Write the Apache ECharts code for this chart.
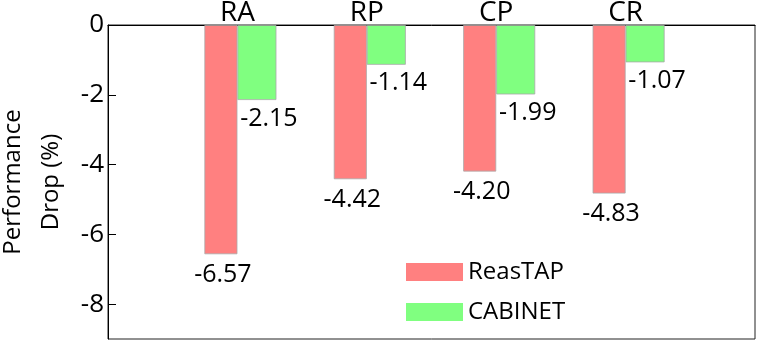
<!DOCTYPE html>
<html>
<head>
<meta charset="utf-8">
<script src="https://cdn.jsdelivr.net/npm/echarts@6/dist/echarts.min.js"></script>
<style>
  html, body { margin: 0; padding: 0; background: #fff; }
  #chart { width: 761px; height: 345px; }
</style>
</head>
<body>
<div id="chart"></div>
<script>
const categories = ['RA', 'RP', 'CP', 'CR']
const categoryPos = [1, 2, 3, 4]
const reastap = [-6.57, -4.42, -4.20, -4.83]
const cabinet = [-2.15, -1.14, -1.99, -1.07]
const yTicks = [0, -2, -4, -6, -8]

const RED = '#ff8080'
const GREEN = '#80ff80'
const FONT = 'Open Sans'

const chart = echarts.init(document.getElementById('chart'), null, { renderer: 'canvas' })

const toPoints = (vals) => vals.map((v, i) => [categoryPos[i], v])

chart.setOption({
  animation: false,
  textStyle: { fontFamily: FONT, color: '#000' },
  grid: {
    left: 108,
    right: 6,
    top: 25,
    bottom: 6,
    outerBoundsMode: 'none',
    containLabel: false,
    show: true,
    borderColor: '#222',
    borderWidth: 1,
  },
  legend: {
    orient: 'vertical',
    left: 406,
    top: 260,
    padding: 0,
    itemWidth: 57,
    itemHeight: 18,
    itemGap: 16,
    icon: 'rect',
    data: ['ReasTAP', 'CABINET'],
    itemStyle: { borderWidth: 0 },
    textStyle: { fontSize: 24, color: '#000', fontFamily: FONT },
  },
  xAxis: {
    type: 'value',
    position: 'top',
    min: 0,
    max: 5,
    axisLine: { show: true, lineStyle: { color: '#000', width: 1 } },
    axisTick: { show: false },
    splitLine: { show: false },
    axisLabel: {
      customValues: categoryPos,
      formatter: (v) => categories[categoryPos.indexOf(v)] || '',
      fontSize: 28,
      color: '#000',
      margin: -2,
    },
  },
  yAxis: {
    type: 'value',
    min: -9,
    max: 0,
    name: 'Performance\nDrop (%)',
    nameLocation: 'middle',
    nameRotate: 90,
    nameGap: 26,
    nameTextStyle: { fontSize: 24, color: '#000', lineHeight: 38, fontFamily: FONT },
    axisLine: { show: true, lineStyle: { color: '#000', width: 1 } },
    axisTick: { show: true, inside: true, length: 8, customValues: yTicks, lineStyle: { color: '#000' } },
    splitLine: { show: false },
    axisLabel: {
      customValues: yTicks,
      fontSize: 26,
      color: '#000',
      margin: 4,
    },
  },
  series: [
    {
      // spacer so the red bar ends on the category point and green starts there
      name: 'spacer',
      type: 'bar',
      barWidth: 6,
      barGap: 0,
      data: [],
      silent: true,
    },
    {
      name: 'ReasTAP',
      type: 'bar',
      barWidth: 33,
      barGap: 0,
      data: toPoints(reastap),
      itemStyle: { color: RED, borderColor: '#a8a8a8', borderWidth: 0.8 },
      label: {
        show: true,
        position: 'bottom',
        distance: 8,
        offset: [2, 0],
        fontSize: 25,
        color: '#000',
        fontFamily: FONT,
        formatter: (p) => p.value[1].toFixed(2),
      },
    },
    {
      name: 'CABINET',
      type: 'bar',
      barWidth: 39,
      barGap: 0,
      data: toPoints(cabinet),
      itemStyle: { color: GREEN, borderColor: '#a8a8a8', borderWidth: 0.8 },
      label: {
        show: true,
        position: 'bottom',
        distance: 6,
        offset: [12, 0],
        fontSize: 25,
        color: '#000',
        fontFamily: FONT,
        formatter: (p) => p.value[1].toFixed(2),
      },
    },
  ],
})
</script>
</body>
</html>
